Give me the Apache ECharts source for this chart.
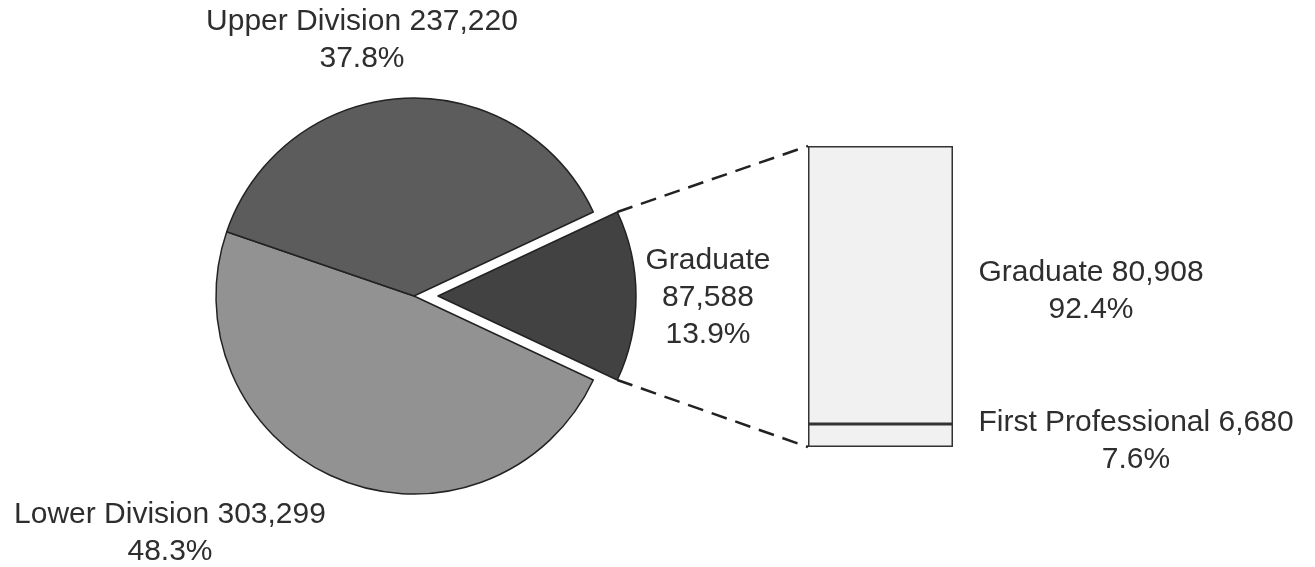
<!DOCTYPE html>
<html>
<head>
<meta charset="utf-8">
<script src="https://cdn.jsdelivr.net/npm/echarts@6/dist/echarts.min.js"></script>
<style>
html,body{margin:0;padding:0;background:#fff;}
#chart{width:1315px;height:567px;}
</style>
</head>
<body>
<div id="chart"></div>
<script>
// ---- data ----
const pieNames = ['Graduate', 'Lower Division', 'Upper Division'];
const pieValues = [87588, 303299, 237220];
const barCategory = ['Graduate Breakdown'];
const barNames = ['First Professional', 'Graduate'];
const barValues = [6680, 80908];

// ---- styles / layout ----
const FONT = '"Liberation Sans", Arial, sans-serif';
const TEXT_COLOR = '#2e2e2e';
const pieColors = ['#424242', '#929292', '#5c5c5c'];
const PIE_CX = 414, PIE_CY = 296, PIE_R = 198, EXPLODE = 24;
const EXPLODED_INDEX = 0;
const GRID_LEFT = 808, GRID_W = 145, GRID_TOP = 146, GRID_H = 301;
const pieLabelPos = [[708, 298], [170, 533], [362, 40]];
const barLabelPos = [[1136, 441], [1091, 291]];

const fmt = v => v.toLocaleString('en-US');
const pieTotal = pieValues.reduce((a, b) => a + b, 0);
const barTotal = barValues.reduce((a, b) => a + b, 0);
const gradAngle = pieValues[EXPLODED_INDEX] / pieTotal * 360;
const startAngle = gradAngle / 2;

const chart = echarts.init(document.getElementById('chart'), null, {renderer: 'canvas'});

const labelBase = {
  show: true,
  fontFamily: FONT,
  fontSize: 30,
  lineHeight: 37,
  color: TEXT_COLOR,
  align: 'center'
};

const barSeries = barNames.map((name, i) => ({
  type: 'bar',
  name: name,
  stack: 'grad',
  data: [barValues[i]],
  barWidth: '100%',
  itemStyle: {color: '#f1f1f1', borderColor: '#333333', borderWidth: 1.5},
  emphasis: {disabled: true},
  label: Object.assign({}, labelBase, {
    formatter: () => name + ' ' + fmt(barValues[i]) + '\n' + (barValues[i] / barTotal * 100).toFixed(1) + '%'
  }),
  labelLayout: () => ({x: barLabelPos[i][0], y: barLabelPos[i][1], align: 'center', verticalAlign: 'middle'})
}));

function pieSeries(exploded) {
  return {
    type: 'pie',
    center: [PIE_CX + (exploded ? EXPLODE : 0), PIE_CY],
    radius: PIE_R,
    startAngle: startAngle,
    clockwise: true,
    percentPrecision: 1,
    avoidLabelOverlap: false,
    data: pieNames.map((n, i) => {
      const visible = exploded ? i === EXPLODED_INDEX : i !== EXPLODED_INDEX;
      return {
        name: n,
        value: pieValues[i],
        itemStyle: visible
          ? {color: pieColors[i], borderColor: '#222222', borderWidth: 1.5}
          : {color: 'rgba(0,0,0,0)', borderWidth: 0},
        label: {show: visible}
      };
    }),
    emphasis: {disabled: true},
    labelLine: {show: false},
    label: Object.assign({}, labelBase, {
      formatter: p => p.dataIndex === EXPLODED_INDEX
        ? p.name + '\n' + fmt(p.value) + '\n' + p.percent.toFixed(1) + '%'
        : p.name + ' ' + fmt(p.value) + '\n' + p.percent.toFixed(1) + '%'
    }),
    labelLayout: p => ({
      x: pieLabelPos[p.dataIndex][0],
      y: pieLabelPos[p.dataIndex][1],
      align: 'center', verticalAlign: 'middle'
    })
  };
}

chart.setOption({
  animation: false,
  backgroundColor: '#ffffff',
  grid: {left: GRID_LEFT, width: GRID_W, top: GRID_TOP, height: GRID_H},
  xAxis: {type: 'category', data: barCategory, show: false},
  yAxis: {type: 'value', min: 0, max: barTotal, show: false},
  series: [pieSeries(false), pieSeries(true)].concat(barSeries)
});

// connector lines: exploded slice corners -> bar corners
const a = startAngle * Math.PI / 180;
const ex = PIE_CX + EXPLODE, ey = PIE_CY;
const topSlice = [ex + PIE_R * Math.cos(a), ey - PIE_R * Math.sin(a)];
const botSlice = [ex + PIE_R * Math.cos(a), ey + PIE_R * Math.sin(a)];
const yTop = chart.convertToPixel({yAxisIndex: 0}, barTotal);
const yBot = chart.convertToPixel({yAxisIndex: 0}, 0);
const lineStyle = {stroke: '#222222', lineWidth: 2.5, lineDash: [16, 9]};
chart.setOption({
  graphic: [
    {type: 'line', shape: {x1: topSlice[0], y1: topSlice[1], x2: GRID_LEFT, y2: yTop}, style: lineStyle, z: 10},
    {type: 'line', shape: {x1: botSlice[0], y1: botSlice[1], x2: GRID_LEFT, y2: yBot}, style: lineStyle, z: 10}
  ]
});
</script>
</body>
</html>
